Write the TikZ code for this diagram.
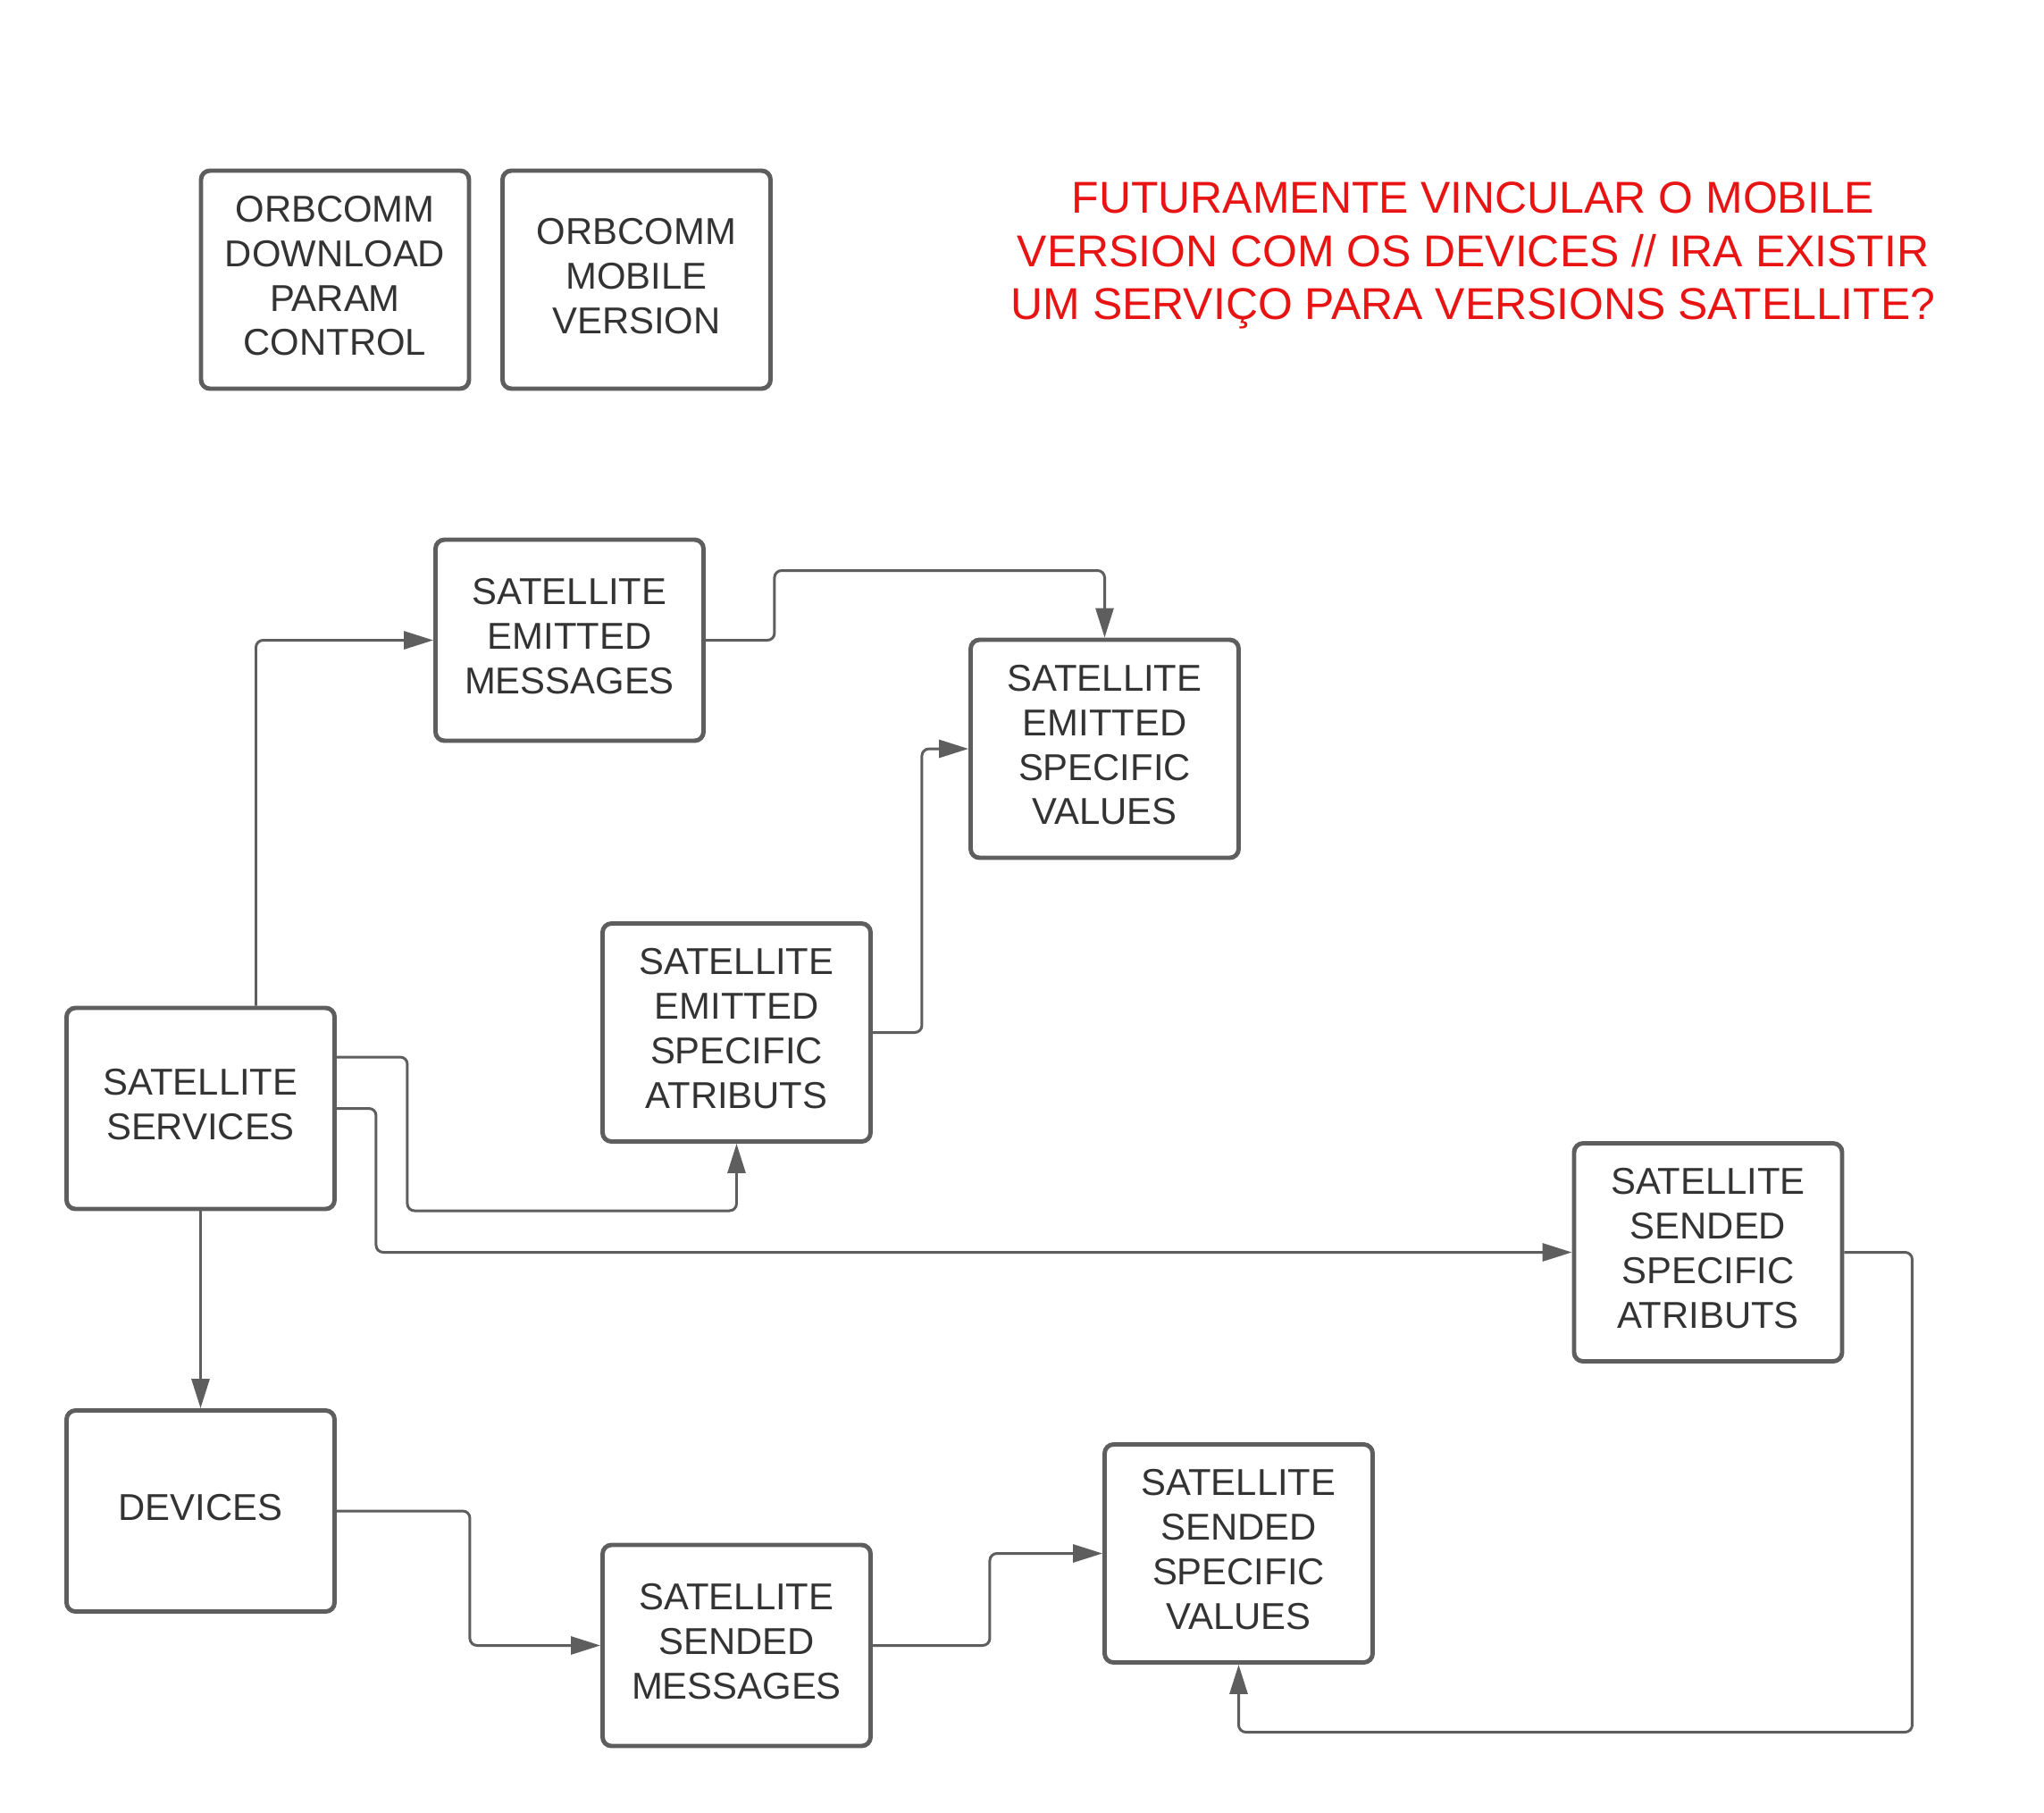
\documentclass[tikz,border=0pt]{standalone}
\usepackage{fontspec}
\setmainfont{Liberation Sans}
\usepackage{xcolor}
\usetikzlibrary{calc,backgrounds,arrows.meta,positioning}
\definecolor{linegray}{HTML}{5E5E5E}
\definecolor{textgray}{HTML}{333333}
\definecolor{notered}{HTML}{E81414}

\begin{document}
\begin{tikzpicture}[%
    show background rectangle,%
    background rectangle/.style={fill=white,draw=none},%
    box/.style={draw=linegray, line width=1.4pt, rounded corners=0.1cm, fill=white,
      text=textgray, align=center, minimum width=3.0cm, minimum height=2.25cm,
      inner sep=0pt, text depth=0.09cm, font=\fontsize{11.9}{14.2}\selectfont},%
    tallbox/.style={box, minimum height=2.44cm},%
    conn/.style={draw=linegray, line width=0.85pt, rounded corners=0.08cm,
      -{Triangle[length=0.33cm,width=0.2cm]}},%
  ]
  \useasboundingbox (0,0) rectangle (22.88,-20.29);

  %
  % Positions
  %
  \pgfmathsetmacro{\xa}{2.245};%
  \pgfmathsetmacro{\xb}{3.75};%
  \pgfmathsetmacro{\xc}{6.375};%
  \pgfmathsetmacro{\xd}{7.125};%
  \pgfmathsetmacro{\xe}{8.245};%
  \pgfmathsetmacro{\xf}{12.365};%
  \pgfmathsetmacro{\xg}{13.865};%
  \pgfmathsetmacro{\xh}{19.12};%

  %
  % Boites
  %
  % Orbcomm
  \node[tallbox] (orbdl) at (\xb,-3.13) {ORBCOMM\\DOWNLOAD\\PARAM\\CONTROL};
  \node[tallbox] (orbmv) at (\xd,-3.13) {ORBCOMM\\MOBILE\\VERSION};

  % Note
  \node[text=notered, align=center, font=\fontsize{14.2}{17}\selectfont] (note) at (16.49,-2.86)
  {FUTURAMENTE VINCULAR O MOBILE\\VERSION COM OS DEVICES // IRA EXISTIR\\UM SERVIÇO PARA VERSIONS SATELLITE?};

  % Emitted
  \node[box] (emsg) at (\xc,-7.165) {SATELLITE\\EMITTED\\MESSAGES};
  \node[tallbox] (emval) at (\xf,-8.38) {SATELLITE\\EMITTED\\SPECIFIC\\VALUES};
  \node[tallbox] (eattr) at (\xe,-11.555) {SATELLITE\\EMITTED\\SPECIFIC\\ATRIBUTS};

  % Services / devices
  \node[box] (serv) at (\xa,-12.405) {SATELLITE\\SERVICES};
  \node[box] (dev) at (\xa,-16.91) {DEVICES};

  % Sended
  \node[tallbox] (sattr) at (\xh,-14.015) {SATELLITE\\SENDED\\SPECIFIC\\ATRIBUTS};
  \node[box] (smsg) at (\xe,-18.415) {SATELLITE\\SENDED\\MESSAGES};
  \node[tallbox] (sval) at (\xg,-17.385) {SATELLITE\\SENDED\\SPECIFIC\\VALUES};

  %
  % Liens
  %
  \draw[conn] ([xshift=0.62cm]serv.north) |- (emsg.west);
  \draw[conn] (emsg.east) -- ++(0.77,0) -- ++(0,0.78) -| (emval.north);
  \draw[conn] (eattr.east) -- ++(0.55,0) |- (emval.west);
  \draw[conn] ([yshift=0.575cm]serv.east) -- ++(0.79,0) -- ++(0,-1.72) -| (eattr.south);
  \draw[conn] (serv.east) -- ++(0.44,0) |- (sattr.west);
  \draw[conn] (serv.south) -- (dev.north);
  \draw[conn] (dev.east) -- ++(1.49,0) |- (smsg.west);
  \draw[conn] (smsg.east) -- ++(1.31,0) |- (sval.west);
  \draw[conn] (sattr.east) -- ++(0.76,0) -- ++(0,-5.37) -| (sval.south);

\end{tikzpicture}
\end{document}
